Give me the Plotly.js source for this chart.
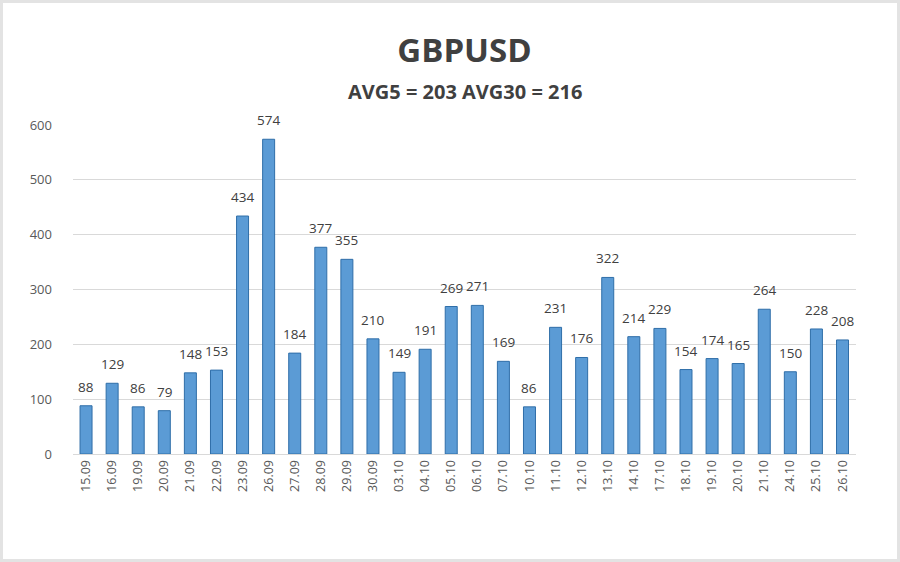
<!DOCTYPE html>
<html><head><meta charset="utf-8">
<script src="https://cdn.plot.ly/plotly-3.0.1.min.js"></script>
<style>
html,body{margin:0;padding:0;background:#fff;}
#chart{width:900px;height:562px;box-sizing:border-box;border:3px solid #e3e3e3;}
</style></head>
<body><div id="chart"></div>
<script>
const categories = ["15.09","16.09","19.09","20.09","21.09","22.09","23.09","26.09","27.09","28.09","29.09","30.09","03.10","04.10","05.10","06.10","07.10","10.10","11.10","12.10","13.10","14.10","17.10","18.10","19.10","20.10","21.10","24.10","25.10","26.10"];
const values = [88,129,86,79,148,153,434,574,184,377,355,210,149,191,269,271,169,86,231,176,322,214,229,154,174,165,264,150,228,208];
const titleText = "GBPUSD";
const subtitleText = "AVG5 = 203 AVG30 = 216";
const yTicks = [0,100,200,300,400,500,600];

const trace = {
  type: 'bar',
  x: categories,
  y: values,
  cliponaxis: false,
  marker: {color: '#5b9bd5', line: {color: '#2f6ea8', width: 1}},
  hoverinfo: 'x+y'
};

// value labels: x given as category index on the category axis
const labelAnnotations = categories.map((c, i) => ({
  x: i, y: values[i], xref: 'x', yref: 'y', text: String(values[i]),
  showarrow: false, yshift: 19, yanchor: 'middle', xanchor: 'center',
  font: {family: 'Open Sans, sans-serif', size: 13.5, color: '#404040'}
}));

const layout = {
  width: 894, height: 556,
  margin: {l: 70, r: 41, t: 122, b: 105},
  paper_bgcolor: '#ffffff',
  plot_bgcolor: '#ffffff',
  bargap: 0.54,
  showlegend: false,
  title: {text: '<b>' + titleText + '</b>', xref: 'paper', x: 0.5, xanchor: 'center', y: 0.915, yanchor: 'middle',
          font: {family: 'Open Sans, sans-serif', size: 33, color: '#404040'}},
  annotations: [{
    text: '<b>' + subtitleText + '</b>', xref: 'paper', yref: 'paper', x: 0.5, y: 1, yshift: 34,
    xanchor: 'center', yanchor: 'middle', showarrow: false,
    font: {family: 'Open Sans, sans-serif', size: 20, color: '#404040'}
  }].concat(labelAnnotations),
  xaxis: {
    type: 'category', tickangle: -90, showgrid: false, showline: true, linecolor: '#d9d9d9',
    ticks: '', tickfont: {family: 'Open Sans, sans-serif', size: 12.5, color: '#595959'}
  },
  yaxis: {
    range: [0, 600], tickvals: yTicks, showgrid: true, gridcolor: '#d9d9d9', zeroline: false,
    showline: false, ticks: '', ticklabelstandoff: 20,
    tickfont: {family: 'Open Sans, sans-serif', size: 13, color: '#595959'}
  }
};

Plotly.newPlot('chart', [trace], layout, {displayModeBar: false, staticPlot: true});
</script></body></html>
